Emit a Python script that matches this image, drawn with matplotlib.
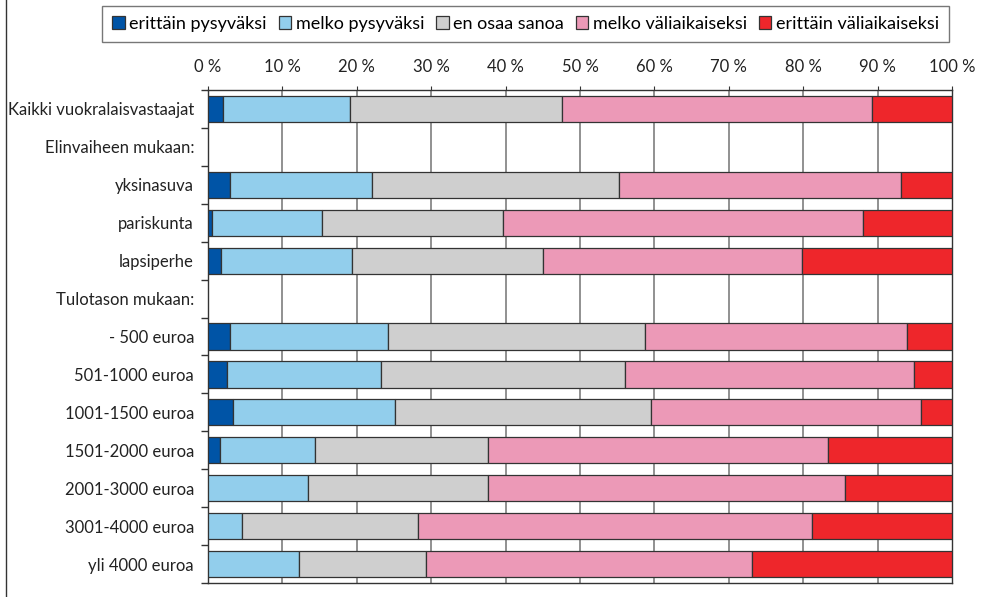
import matplotlib
matplotlib.use("Agg")
import matplotlib.pyplot as plt
import numpy as np
from matplotlib.lines import Line2D

plt.rcParams['font.family'] = ['Lato', 'DejaVu Sans']

categories = ["Kaikki vuokralaisvastaajat", "Elinvaiheen mukaan:", "yksinasuva",
              "pariskunta", "lapsiperhe", "Tulotason mukaan:", "- 500 euroa",
              "501-1000 euroa", "1001-1500 euroa", "1501-2000 euroa",
              "2001-3000 euroa", "3001-4000 euroa", "yli 4000 euroa"]

series_names = ["erittäin pysyväksi", "melko pysyväksi", "en osaa sanoa",
                "melko väliaikaiseksi", "erittäin väliaikaiseksi"]

erittain_pysyvaksi = [2.0, 0, 3.0, 0.6, 1.8, 0, 2.9, 2.6, 3.3, 1.6, 0, 0, 0]
melko_pysyvaksi = [17.1, 0, 19.1, 14.7, 17.5, 0, 21.3, 20.6, 21.9, 12.8, 13.5, 4.6, 12.2]
en_osaa_sanoa = [28.5, 0, 33.1, 24.4, 25.7, 0, 34.6, 32.9, 34.4, 23.3, 24.2, 23.6, 17.1]
melko_valiaikaiseksi = [41.7, 0, 37.9, 48.3, 34.8, 0, 35.2, 38.8, 36.2, 45.6, 47.9, 53.0, 43.8]
erittain_valiaikaiseksi = [10.7, 0, 6.9, 12.0, 20.2, 0, 6.0, 5.1, 4.2, 16.7, 14.4, 18.8, 26.9]

tick_values = [0, 10, 20, 30, 40, 50, 60, 70, 80, 90, 100]
tick_labels = ["0 %", "10 %", "20 %", "30 %", "40 %", "50 %", "60 %", "70 %", "80 %", "90 %", "100 %"]

colors = ["#0054A6", "#92CEEC", "#CFCFCF", "#EC99B7", "#EE262B"]

data = [erittain_pysyvaksi, melko_pysyvaksi, en_osaa_sanoa,
        melko_valiaikaiseksi, erittain_valiaikaiseksi]

FS = 12

fig = plt.figure(figsize=(9.95, 5.97), dpi=100)
ax = fig.add_axes([208/995, 1-583/597, (952-208)/995, (583-90)/597])

y = np.arange(len(categories))
left = np.zeros(len(categories))
handles = []
for vals, col, name in zip(data, colors, series_names):
    vals = np.array(vals, dtype=float)
    mask = vals > 0
    ax.barh(y[mask], vals[mask], left=left[mask], height=0.69, color=col,
            edgecolor="#333333", linewidth=0.9, zorder=3)
    left += vals
    handles.append(plt.Rectangle((0, 0), 1, 1, facecolor=col, edgecolor="#333333", linewidth=0.9))

ax.set_xlim(0, 100)
ax.set_ylim(len(categories) - 0.5, -0.5)
ax.set_xticks(tick_values)
ax.set_xticklabels(tick_labels, fontsize=FS, color="#222222")
ax.xaxis.tick_top()
ax.tick_params(axis='x', which='both', length=3, pad=8, color="#333333", top=True, bottom=False)
ax.set_yticks(y)
ax.set_yticklabels(categories, fontsize=FS, color="#222222")
ax.set_yticks(np.arange(len(categories) + 1) - 0.5, minor=True)
ax.tick_params(axis='y', which='major', length=0, pad=10)
ax.tick_params(axis='y', which='minor', length=5, color="#333333", width=1)

for t in tick_values[1:-1]:
    ax.axvline(t, color="#888888", linewidth=1.3, zorder=1)

for s in ax.spines.values():
    s.set_color("#333333")
    s.set_linewidth(1.0)

leg = fig.legend(handles, series_names, loc='center', bbox_to_anchor=(525.5/995, 1-24/597),
                 ncol=5, fontsize=13, frameon=True, fancybox=False,
                 handlelength=0.7, handleheight=0.7, handletextpad=0.25,
                 columnspacing=0.65, borderpad=0.55, borderaxespad=0)
leg.get_frame().set_edgecolor("#555555")
leg.get_frame().set_linewidth(1.0)

fig.add_artist(Line2D([6/995, 6/995], [0, 1], transform=fig.transFigure, color="#333333", linewidth=1.0))

fig.savefig("out.png", dpi=100)
